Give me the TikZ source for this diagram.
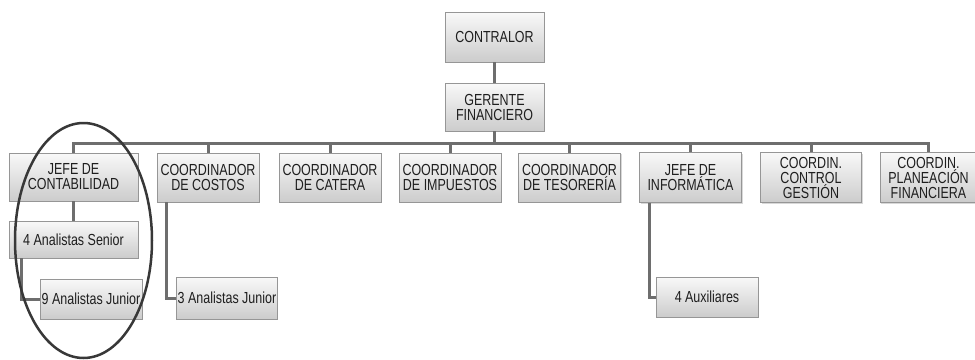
\documentclass[tikz,border=0pt]{standalone}
\usepackage{fontspec}
\newfontfamily\orgfont[FakeStretch=0.78]{Liberation Sans}
\usepackage{tikz}
\usetikzlibrary{positioning,shapes,shadows,arrows,fit}

\definecolor{boxline}{RGB}{150,150,150}
\definecolor{linkgray}{RGB}{110,110,110}
\definecolor{txtgray}{RGB}{30,30,30}

\tikzset{
  cargo/.style={draw=boxline, line width=0.8, top color=gray!5, bottom color=gray!40,
    align=center, inner sep=1pt, text=txtgray, font=\orgfont\fontsize{16}{15}\selectfont,
    drop shadow={shadow xshift=1.2pt, shadow yshift=-1.2pt, fill=gray!60, opacity=0.5}},
  link/.style={line width=3, color=linkgray}
}

\begin{document}
\begin{tikzpicture}[x=1pt, y=-1pt]
\useasboundingbox (0,0) rectangle (975,359);
\node[cargo, minimum width=99, minimum height=50] (contr) at (494.5,37) {CONTRALOR};
\node[cargo, minimum width=99, minimum height=48] (ger) at (494.5,107) {GERENTE\\FINANCIERO};
\node[cargo, minimum width=129, minimum height=48] (jcont) at (73.5,177) {JEFE DE\\CONTABILIDAD};
\node[cargo, minimum width=102, minimum height=49] (costos) at (208,177.5) {COORDINADOR\\DE COSTOS};
\node[cargo, minimum width=102, minimum height=49] (catera) at (330,177.5) {COORDINADOR\\DE CATERA};
\node[cargo, minimum width=102, minimum height=49] (impto) at (450,177.5) {COORDINADOR\\DE IMPUESTOS};
\node[cargo, minimum width=102, minimum height=49] (tesor) at (569.5,177.5) {COORDINADOR\\DE TESORERÍA};
\node[cargo, minimum width=102, minimum height=50] (inform) at (690.5,177.5) {JEFE DE\\INFORMÁTICA};
\node[cargo, minimum width=101, minimum height=50] (ctrl) at (811,177.5) {COORDIN.\\CONTROL\\GESTIÓN};
\node[cargo, minimum width=97, minimum height=50] (plan) at (928.5,177.5) {COORDIN.\\PLANEACIÓN\\FINANCIERA};
\node[cargo, minimum width=129, minimum height=37] (senior) at (73.5,239.5) {4 Analistas Senior};
\node[cargo, minimum width=102, minimum height=40] (junA) at (91,299) {9 Analistas Junior};
\node[cargo, minimum width=100, minimum height=42] (junB) at (227,298) {3 Analistas Junior};
\node[cargo, minimum width=102, minimum height=40] (aux) at (707,297) {4 Auxiliares};
\coordinate (bus) at (494.5,143);
\draw[link] (contr.south) -- (ger.north);
\draw[link] (ger.south) -- (bus);
\draw[link] (bus) -| (jcont.north);
\draw[link] (bus) -| (costos.north);
\draw[link] (bus) -| (catera.north);
\draw[link] (bus) -| (impto.north);
\draw[link] (bus) -| (tesor.north);
\draw[link] (bus) -| (inform.north);
\draw[link] (bus) -| (ctrl.north);
\draw[link] (bus) -| (plan.north);
\draw[link] (jcont.south) -- (senior.north);
\draw[link] ([xshift=13pt]senior.south west) |- (junA.west);
\draw[link] ([xshift=10pt]costos.south west) |- (junB.west);
\draw[link] ([xshift=10pt]inform.south west) |- (aux.west);
\draw[line width=2.5, color=black!78] (83.5,240.5) ellipse [x radius=68.5, y radius=117.5];
\end{tikzpicture}
\end{document}
